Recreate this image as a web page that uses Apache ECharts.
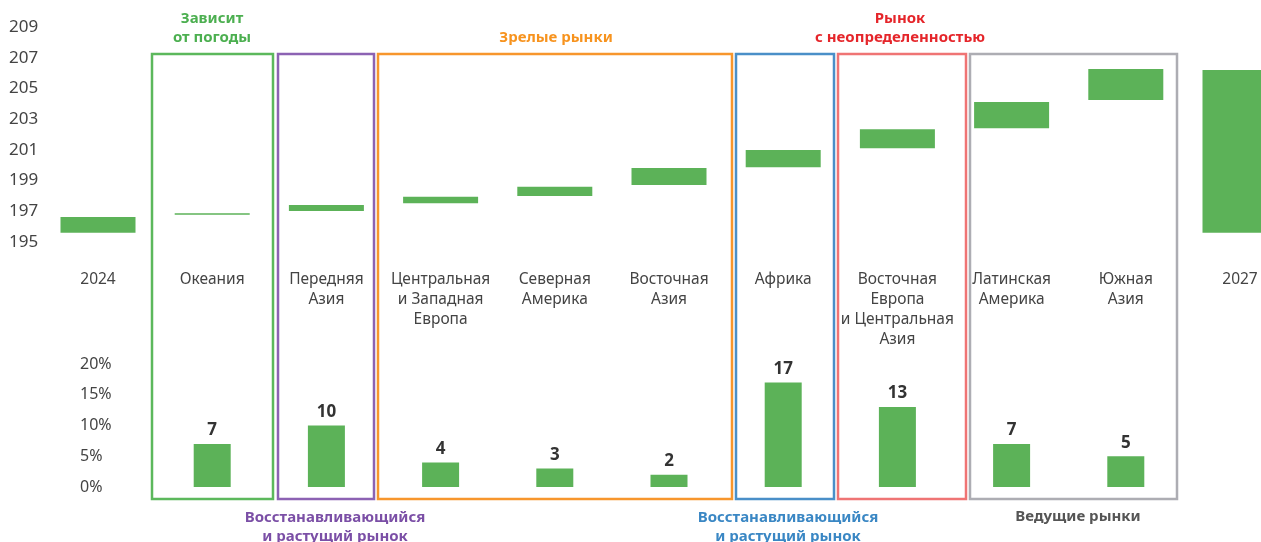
<!DOCTYPE html>
<html>
<head>
<meta charset="utf-8">
<script src="https://cdn.jsdelivr.net/npm/echarts@6/dist/echarts.min.js"></script>
<style>
  html, body { margin: 0; padding: 0; background: #fff; }
  #chart { width: 1261px; height: 542px; }
</style>
</head>
<body>
<div id="chart"></div>
<script>
// категории (подписи по оси X)
const categories = [
  "2024", "Океания", "Передняя\nАзия", "Центральная\nи Западная\nЕвропа",
  "Северная\nАмерика", "Восточная\nАзия", "Африка",
  "Восточная\nЕвропа\nи Центральная\nАзия", "Латинская\nАмерика", "Южная\nАзия", "2027"
];
// каскад: нижняя и верхняя граница каждого бруска
const lows  = [195.6, 196.78, 197.02, 197.52, 197.99, 198.71, 199.86, 201.10, 202.40, 204.24, 195.6];
const highs = [196.63, 196.88, 197.41, 197.95, 198.60, 199.82, 200.99, 202.34, 204.11, 206.26, 206.2];
// прирост, %
const growth = [null, 7, 10, 4, 3, 2, 17, 13, 7, 5, null];
// подписи осей
const topTicks = [195, 197, 199, 201, 203, 205, 207, 209];
const pctTicks = [0, 5, 10, 15, 20];

const base = topTicks[0];
const FONT = "'Noto Sans', sans-serif";
const GREEN = "#5cb258";

let chart = echarts.init(document.getElementById("chart"));

// сетка: крайние категории стоят на краях (boundaryGap: false)
const GL = 98, GR = 21;

let option = {
  animation: false,
  textStyle: { fontFamily: FONT },
  grid: [
    { left: GL, right: GR, top: 27, height: 215 },
    { left: GL, right: GR, top: 364, height: 123 }
  ],
  xAxis: [
    {
      type: "category", gridIndex: 0, data: categories, boundaryGap: false,
      axisLine: { show: false }, axisTick: { show: false }, splitLine: { show: false },
      axisLabel: { color: "#444", fontSize: 15.5, lineHeight: 20, margin: 28, interval: 0 }
    },
    {
      type: "category", gridIndex: 1, data: categories, boundaryGap: false,
      axisLine: { show: false }, axisTick: { show: false }, axisLabel: { show: false }, splitLine: { show: false }
    }
  ],
  yAxis: [
    {
      type: "value", gridIndex: 0, min: 0, max: topTicks[topTicks.length - 1] - base, interval: 2,
      splitLine: { show: false }, axisLine: { show: false }, axisTick: { show: false },
      axisLabel: {
        color: "#444", fontSize: 17, align: "left", margin: GL - 9,
        formatter: v => String(v + base)
      }
    },
    {
      type: "value", gridIndex: 1, min: pctTicks[0], max: pctTicks[pctTicks.length - 1], interval: 5,
      splitLine: { show: false }, axisLine: { show: false }, axisTick: { show: false },
      axisLabel: { color: "#444", fontSize: 16, align: "left", margin: GL - 80, formatter: "{value}%" }
    }
  ],
  series: [
    {
      type: "bar", xAxisIndex: 0, yAxisIndex: 0, stack: "w", barWidth: 75, clip: false,
      itemStyle: { color: "transparent" }, silent: true,
      data: lows.map(v => v - base)
    },
    {
      type: "bar", xAxisIndex: 0, yAxisIndex: 0, stack: "w", barWidth: 75, clip: false,
      itemStyle: { color: GREEN },
      data: highs.map((h, i) => +(h - lows[i]).toFixed(3))
    },
    {
      type: "bar", xAxisIndex: 1, yAxisIndex: 1, barWidth: 37, clip: false,
      itemStyle: { color: GREEN },
      label: { show: true, position: "top", distance: 5, color: "#333", fontSize: 17, fontWeight: "bold" },
      data: growth.map(v => v === null ? "-" : v)
    }
  ],
  graphic: [
    // рамки групп
    { type: "rect", shape: { x: 152, y: 54, width: 121, height: 445 }, style: { fill: "none", stroke: "#5cb85c", lineWidth: 2.5 } },
    { type: "rect", shape: { x: 278, y: 54, width: 96, height: 445 }, style: { fill: "none", stroke: "#8c62b3", lineWidth: 2.5 } },
    { type: "rect", shape: { x: 378, y: 54, width: 354, height: 445 }, style: { fill: "none", stroke: "#f7962d", lineWidth: 2.5 } },
    { type: "rect", shape: { x: 736, y: 54, width: 98, height: 445 }, style: { fill: "none", stroke: "#4a8fc8", lineWidth: 2.5 } },
    { type: "rect", shape: { x: 838, y: 54, width: 128, height: 445 }, style: { fill: "none", stroke: "#ef7474", lineWidth: 2.5 } },
    { type: "rect", shape: { x: 970, y: 54, width: 207, height: 445 }, style: { fill: "none", stroke: "#adadb3", lineWidth: 2.5 } },
    // заголовки групп
    { type: "text", x: 212, y: 9, style: { text: "Зависит\nот погоды", textAlign: "center", fill: "#4caf50", font: "bold 15px " + FONT, lineHeight: 19 } },
    { type: "text", x: 556, y: 28, style: { text: "Зрелые рынки", textAlign: "center", fill: "#f7931e", font: "bold 15px " + FONT, lineHeight: 19 } },
    { type: "text", x: 900, y: 9, style: { text: "Рынок\nс неопределенностью", textAlign: "center", fill: "#e5252a", font: "bold 15px " + FONT, lineHeight: 19 } },
    { type: "text", x: 335, y: 508, style: { text: "Восстанавливающийся\nи растущий рынок", textAlign: "center", fill: "#7b4fa6", font: "bold 15px " + FONT, lineHeight: 19 } },
    { type: "text", x: 788, y: 508, style: { text: "Восстанавливающийся\nи растущий рынок", textAlign: "center", fill: "#3a87c4", font: "bold 15px " + FONT, lineHeight: 19 } },
    { type: "text", x: 1078, y: 507, style: { text: "Ведущие рынки", textAlign: "center", fill: "#555", font: "bold 15px " + FONT, lineHeight: 19 } }
  ]
};

chart.setOption(option);
</script>
</body>
</html>
